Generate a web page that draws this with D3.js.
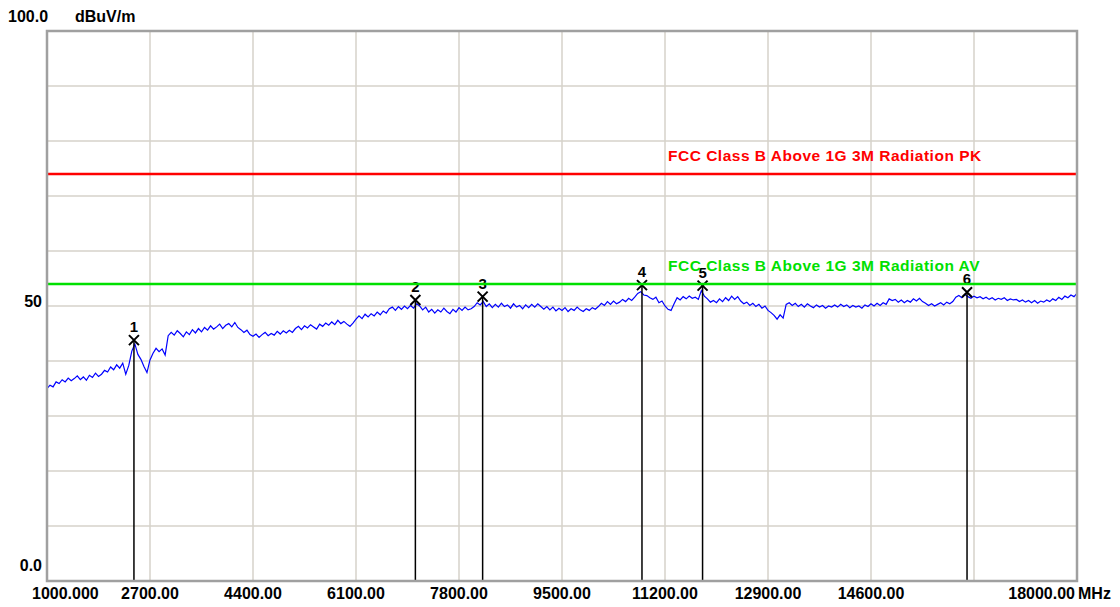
<!DOCTYPE html>
<html><head><meta charset="utf-8">
<script src="https://cdn.jsdelivr.net/npm/d3@7"></script>
<style>
html,body{margin:0;padding:0;background:#fff;}
svg text{font-family:"Liberation Sans",Arial,sans-serif;font-weight:bold;}
</style></head>
<body><svg id="c" width="1120" height="607"></svg>
<script>
// ---- data ----
const freqMin = 1000, freqMax = 18000, freqStep = 50;
const xTickValues = [1000, 2700, 4400, 6100, 7800, 9500, 11200, 12900, 14600, 16300, 18000];
const xTickLabels = ["1000.000", "2700.00", "4400.00", "6100.00", "7800.00", "9500.00", "11200.00", "12900.00", "14600.00", "", "18000.00"];
const yTickValues = [0, 10, 20, 30, 40, 50, 60, 70, 80, 90, 100];
const yTickLabels = [{v: 0, t: "0.0"}, {v: 50, t: "50"}, {v: 100, t: "100.0"}];
const yUnit = "dBuV/m";
const xUnit = "MHz";
// trace levels, one per 50 MHz from 1000 MHz to 18000 MHz
const traceLevels = [
 35.0,35.6,35.3,36.2,35.9,36.6,36.2,36.9,36.4,36.8,37.3,36.6,37.1,36.5,37.4,37.0,37.8,37.2,37.6,38.3,
 38.0,38.9,38.4,39.3,38.7,39.6,37.6,39.2,41.8,43.1,41.2,40.3,39.0,37.9,40.2,41.4,42.3,41.7,42.2,41.1,
 44.6,45.2,44.7,45.5,45.0,44.4,45.3,44.8,45.7,45.1,45.9,45.3,46.1,45.6,46.4,45.8,46.2,46.7,45.9,46.5,
 46.8,46.2,47.0,46.1,45.7,45.2,45.6,44.8,44.5,44.9,44.3,44.8,45.2,44.6,45.0,44.7,45.4,44.9,45.5,45.1,
 45.6,45.2,45.9,46.3,45.7,46.4,46.0,46.6,46.2,45.8,46.7,46.3,46.9,46.5,47.1,46.6,47.4,46.8,47.2,46.7,
 46.3,46.9,47.6,48.2,47.7,48.5,48.0,48.6,48.2,48.9,48.4,49.1,48.7,49.5,49.8,49.2,49.9,49.4,50.0,49.5,
 50.1,49.6,50.4,50.0,49.3,49.8,48.9,49.4,48.7,49.3,48.9,49.6,49.0,48.6,49.4,48.9,49.7,49.2,49.8,49.3,
 49.5,49.9,50.6,50.2,50.8,49.9,50.4,49.7,50.3,49.8,50.5,49.9,50.2,49.6,50.4,49.8,50.1,49.5,50.2,49.7,
 50.3,49.8,50.4,49.9,49.4,49.9,49.3,49.8,49.1,49.6,49.2,49.7,49.0,49.5,49.2,49.8,49.3,49.0,49.5,49.2,
 49.7,49.4,49.9,50.5,50.1,50.8,50.3,50.9,50.4,50.7,51.2,50.8,51.4,51.0,51.6,52.3,52.6,52.0,51.9,51.5,
 51.2,51.6,50.6,50.9,50.0,49.4,49.2,50.4,51.5,51.1,51.7,51.3,51.8,51.4,51.6,51.2,52.8,51.8,51.3,50.7,
 51.0,50.6,51.3,50.8,51.5,51.0,51.8,51.2,51.7,50.9,50.4,50.7,50.1,50.5,49.9,50.3,49.6,50.0,49.2,48.8,
 48.3,47.6,48.4,47.8,50.3,50.6,50.1,50.5,49.9,50.3,49.8,50.4,50.0,49.7,50.2,49.8,50.1,49.6,50.0,49.8,
 50.2,49.8,50.3,49.9,50.2,49.7,50.1,49.8,50.0,49.6,50.2,49.9,50.4,50.0,50.5,50.1,50.6,50.3,51.3,51.0,
 51.2,50.7,51.1,50.6,51.0,50.7,51.3,50.9,51.4,50.8,50.5,50.1,50.4,50.0,50.3,50.6,50.2,50.7,50.4,50.8,
 51.6,51.9,51.5,52.1,51.7,51.4,51.8,51.5,51.7,51.3,51.6,51.2,51.5,51.1,51.4,51.2,51.5,51.0,51.3,51.1,
 51.2,50.8,51.1,50.7,51.0,50.6,51.0,50.5,50.9,50.7,51.1,50.8,51.3,51.0,51.6,51.2,51.8,51.5,52.0,51.7,
 52.3
];
const markerIds = ["1", "2", "3", "4", "5", "6"];
const markerFreqs = [2435, 7080, 8190, 10820, 11820, 16185];
const markerLevels = [43.8, 51.1, 51.7, 53.8, 53.7, 52.5];
const limitNames = ["FCC Class B Above 1G 3M Radiation PK", "FCC Class B Above 1G 3M Radiation AV"];
const limitLevels = [74, 54];
const limitColors = ["#ff0000", "#00e000"];

// ---- layout ----
const L = 47, R = 1077, T = 31, B = 581;
const svg = d3.select("#c");
const x = d3.scaleLinear().domain([freqMin, freqMax]).range([L, R]);
const y = d3.scaleLinear().domain([0, 100]).range([B, T]);

// grid
svg.append("g").selectAll("line").data(xTickValues.slice(1, -1)).join("line")
  .attr("x1", d => x(d)).attr("x2", d => x(d)).attr("y1", T).attr("y2", B)
  .attr("stroke", "#d6d2ca").attr("stroke-width", 1.5);
svg.append("g").selectAll("line").data(yTickValues.slice(1, -1)).join("line")
  .attr("x1", L).attr("x2", R).attr("y1", d => y(d)).attr("y2", d => y(d))
  .attr("stroke", "#d6d2ca").attr("stroke-width", 1.5);

// trace
const freqs = d3.range(traceLevels.length).map(i => freqMin + i * freqStep);
const line = d3.line().x((d, i) => x(freqs[i])).y(d => y(d));
svg.append("path").datum(traceLevels).attr("d", line)
  .attr("fill", "none").attr("stroke", "#0000ff").attr("stroke-width", 1.2);

// markers
const mk = svg.append("g");
markerFreqs.forEach((f, i) => {
  const cx = x(f), cy = y(markerLevels[i]);
  mk.append("line").attr("x1", cx).attr("x2", cx).attr("y1", cy).attr("y2", B)
    .attr("stroke", "#000").attr("stroke-width", 1.5);
  const s = 5;
  mk.append("path").attr("d", `M${cx - s},${cy - s}L${cx + s},${cy + s}M${cx + s},${cy - s}L${cx - s},${cy + s}`)
    .attr("stroke", "#000").attr("stroke-width", 2).attr("fill", "none");
  mk.append("text").attr("x", cx).attr("y", cy - 8).attr("text-anchor", "middle")
    .attr("font-size", 15).attr("fill", "#000").text(markerIds[i]);
});

// limit lines
limitLevels.forEach((v, i) => {
  svg.append("line").attr("x1", L).attr("x2", R).attr("y1", y(v)).attr("y2", y(v))
    .attr("stroke", limitColors[i]).attr("stroke-width", 2.5);
  svg.append("text").attr("x", 668).attr("y", y(v) - 13).attr("font-size", 15.5)
    .attr("letter-spacing", 0.5).attr("fill", limitColors[i]).text(limitNames[i]);
});

// frame
svg.append("rect").attr("x", L).attr("y", T).attr("width", R - L).attr("height", B - T)
  .attr("fill", "none").attr("stroke", "#a0a0a0").attr("stroke-width", 2.5);

// x labels
xTickValues.forEach((v, i) => {
  if (!xTickLabels[i]) return;
  const t = svg.append("text").attr("y", 599).attr("font-size", 16).attr("fill", "#000").text(xTickLabels[i]);
  if (i === 0) t.attr("x", 32).attr("text-anchor", "start");
  else if (i === xTickValues.length - 1) t.attr("x", x(v) - 2).attr("text-anchor", "end");
  else t.attr("x", x(v)).attr("text-anchor", "middle");
});
svg.append("text").attr("x", R + 1).attr("y", 599).attr("font-size", 16).attr("fill", "#000").text(xUnit);

// y labels
yTickLabels.forEach(d => {
  const t = svg.append("text").attr("font-size", 16).attr("fill", "#000").text(d.t);
  if (d.v === 100) t.attr("x", 8).attr("y", 22);
  else if (d.v === 0) t.attr("x", 42).attr("y", 571).attr("text-anchor", "end");
  else t.attr("x", 42).attr("y", y(d.v) + 1).attr("text-anchor", "end");
});
svg.append("text").attr("x", 75).attr("y", 22).attr("font-size", 16).attr("fill", "#000").text(yUnit);
</script></body></html>
